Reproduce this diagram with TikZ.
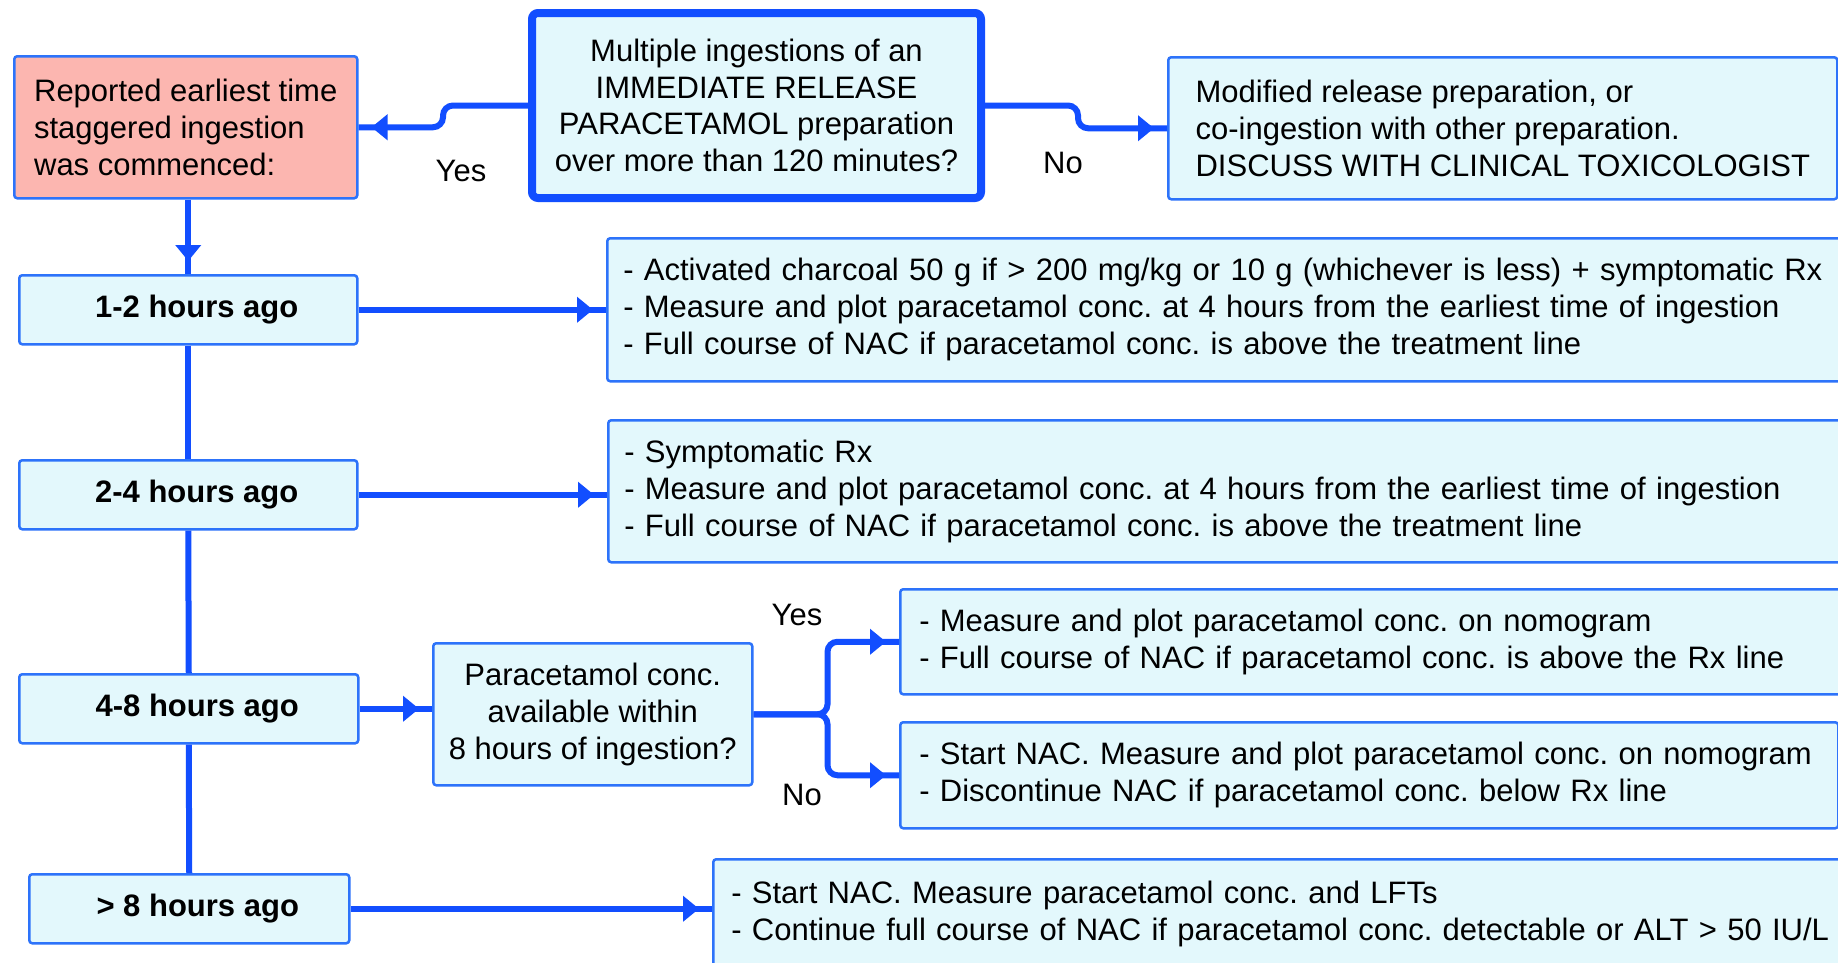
\documentclass[tikz,border=0pt]{standalone}
\usepackage{fontspec}
\setmainfont{Liberation Sans}
\usetikzlibrary{arrows.meta,decorations.markings}
\definecolor{flowblue}{RGB}{18,78,255}
\definecolor{edgeblue}{RGB}{45,115,250}
\definecolor{boxfill}{RGB}{227,248,252}
\definecolor{startfill}{RGB}{252,182,176}
\begin{document}
\begin{tikzpicture}[
        x=1pt, y=-1pt,
        font=\fontsize{31}{36.8}\selectfont\frenchspacing,
        box/.style = {draw=edgeblue, line width=2.5pt, fill=boxfill, rounded corners=3pt, anchor=north west, inner ysep=0pt},
        textbox/.style = {box, align=left},
        timebox/.style = {box, font=\fontsize{31}{36.8}\selectfont\bfseries, inner xsep=0pt,
            execute at begin node=\hspace*{17pt}},
        askbox/.style = {box, align=center, inner xsep=0pt},
        link/.style = {draw=flowblue, line width=6pt, rounded corners=10pt},
        tipend/.style = {postaction={decorate}, decoration={markings,
            mark=at position -13pt with {\arrow[flowblue]{Triangle[length=16pt,width=25pt]}}}},
        answer/.style = {inner sep=0pt}
    ]
        \useasboundingbox (0,0) rectangle (1838,962);
        \fill[white] (0,0) rectangle (1838,962);
        \node[textbox, fill=startfill, inner xsep=0pt, minimum width=343pt, minimum height=142pt] (start) at (13,55)
            {Reported earliest time\\staggered ingestion\\was commenced:};
        \node[askbox, draw=flowblue, line width=8pt, rounded corners=6pt, minimum width=449pt, minimum height=185pt] (ask) at (528,9)
            {Multiple ingestions of an\\IMMEDIATE RELEASE\\PARACETAMOL preparation\\over more than 120 minutes?};
        \node[textbox, inner xsep=0pt, minimum width=669pt, minimum height=142pt] (modified) at (1167,56)
            {Modified release preparation, or\\co-ingestion with other preparation.\\DISCUSS WITH CLINICAL TOXICOLOGIST};
        \node[timebox, minimum width=338pt, minimum height=69pt] (t12) at (18,274) {1-2 hours ago};
        \node[timebox, minimum width=338pt, minimum height=69pt] (t24) at (18,459) {2-4 hours ago};
        \node[timebox, minimum width=339pt, minimum height=69pt] (t48) at (18,673) {4-8 hours ago};
        \node[timebox, minimum width=320pt, minimum height=69pt] (t8) at (28,873) {> 8 hours ago};
        \node[textbox, inner xsep=16pt, text width=1260pt, minimum height=143pt] (r12) at (606,237)
            {- Activated charcoal 50 g if > 200 mg/kg or 10 g (whichever is less) + symptomatic Rx\\
             - Measure and plot paracetamol conc. at 4 hours from the earliest time of ingestion\\
             - Full course of NAC if paracetamol conc. is above the treatment line};
        \node[textbox, inner xsep=16pt, text width=1260pt, minimum height=142pt] (r24) at (607,419)
            {- Symptomatic Rx\\
             - Measure and plot paracetamol conc. at 4 hours from the earliest time of ingestion\\
             - Full course of NAC if paracetamol conc. is above the treatment line};
        \node[askbox, minimum width=319pt, minimum height=142pt] (avail) at (432,642)
            {Paracetamol conc.\\available within\\8 hours of ingestion?};
        \node[textbox, inner xsep=19pt, text width=960pt, minimum height=105pt] (ryes) at (899,588)
            {- Measure and plot paracetamol conc. on nomogram\\
             - Full course of NAC if paracetamol conc. is above the Rx line};
        \node[textbox, inner xsep=19pt, text width=900pt, minimum height=106pt] (rno) at (899,721)
            {- Start NAC. Measure and plot paracetamol conc. on nomogram\\
             - Discontinue NAC if paracetamol conc. below Rx line};
        \node[textbox, inner xsep=18pt, text width=1140pt, minimum height=110pt] (rlate) at (712,858)
            {- Start NAC. Measure paracetamol conc. and LFTs\\
             - Continue full course of NAC if paracetamol conc. detectable or ALT > 50 IU/L};
        \node[answer] (yes1) at (461,171) {Yes};
        \node[answer] (no1) at (1063,163) {No};
        \node[answer] (yes2) at (797,615) {Yes};
        \node[answer] (no2) at (802,795) {No};
        \draw[link, tipend] (ask.west) -- ++(-85,0) |- (start.east);
        \draw[link, tipend] (ask.east) -- ++(93,0) |- (modified.west);
        \draw[link, tipend] (t12.north |- start.south) -- (t12.north);
        \draw[link] (t12.south) -- (t24.north);
        \draw[link] (t24.south) -- (t48.north);
        \draw[link] (t48.south) -- (t8.north);
        \draw[link, tipend] (t12.east) -- (r12.west);
        \draw[link, tipend] (t24.east) -- (t24.east -| r24.west);
        \draw[link, tipend] (t48.east) -- (t48.east -| avail.west);
        \draw[link, tipend] (avail.east) -- ++(74,0) |- (ryes.west);
        \draw[link, tipend] (avail.east) -- ++(74,0) |- (rno.west);
        \draw[link, tipend] (t8.east) -- (t8.east -| rlate.west);
    \end{tikzpicture}
\end{document}
